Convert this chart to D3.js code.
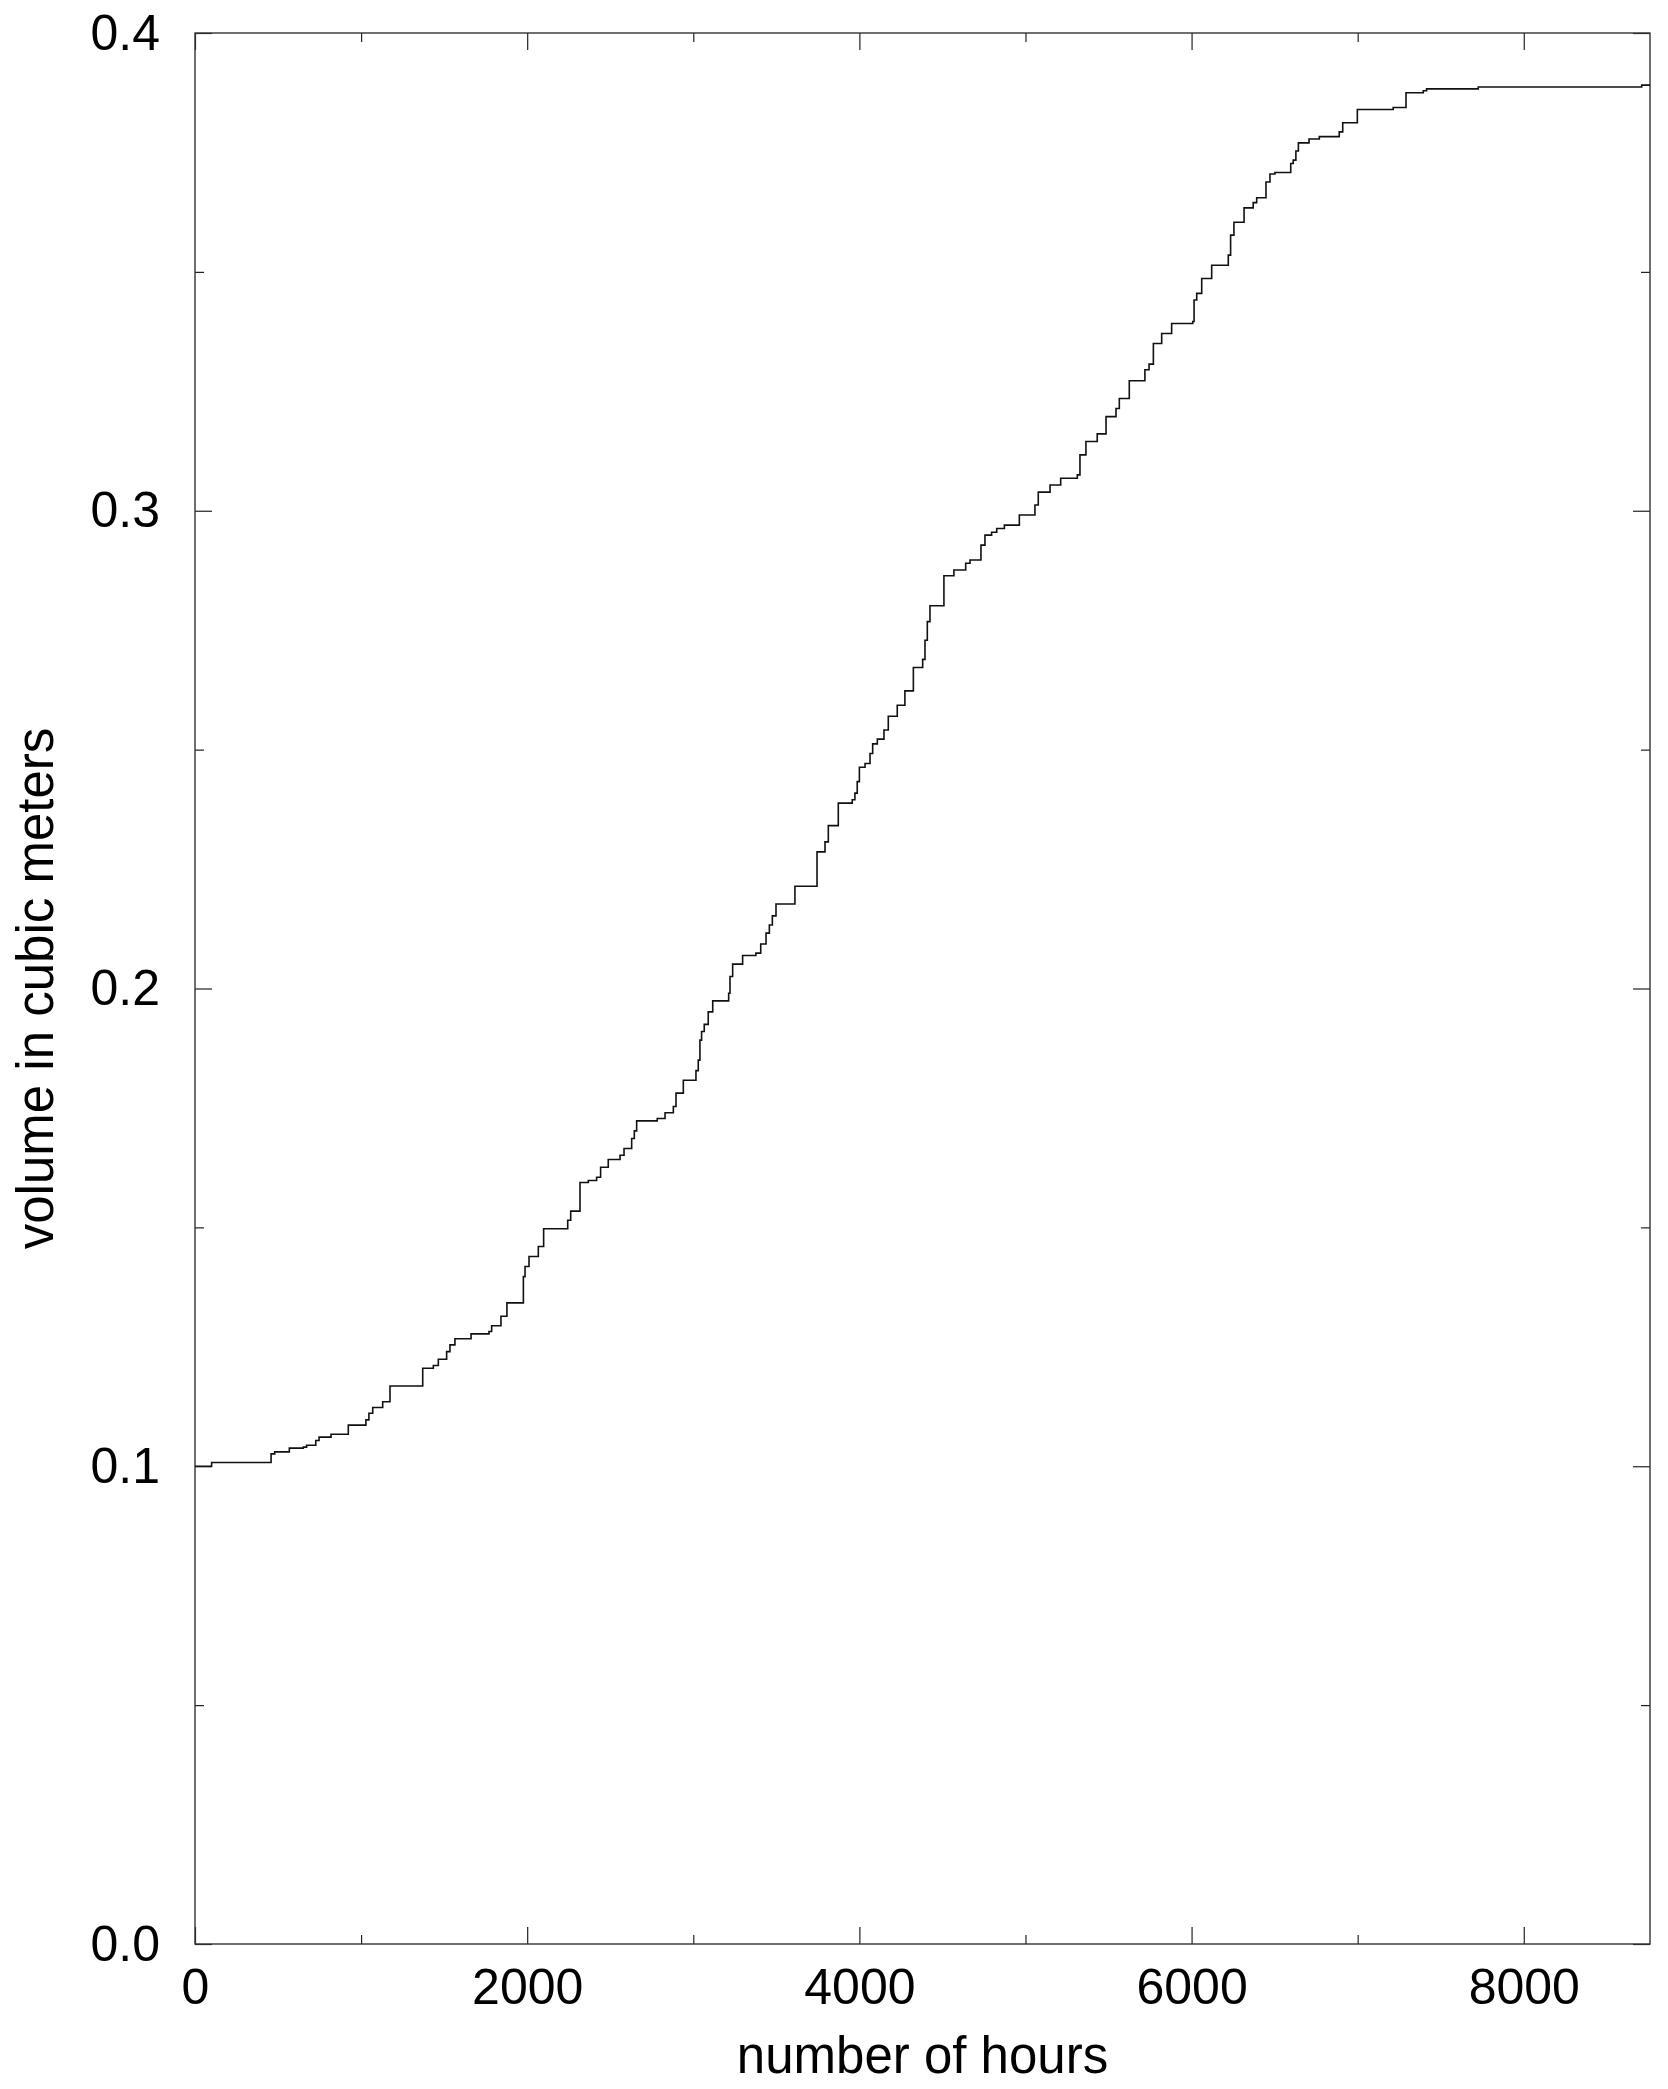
<!DOCTYPE html>
<html>
<head>
<meta charset="utf-8">
<script src="https://cdn.jsdelivr.net/npm/d3@7"></script>
<style>
  html, body { margin: 0; padding: 0; background: #fff; }
  svg { display: block; font-family: 'Liberation Sans', Arial, Helvetica, sans-serif; }
</style>
</head>
<body>
<svg id="chart" width="1668" height="2089"></svg>
<script>
// cumulative volume (step levels)
const hours = [
  0, 100, 458, 480, 568, 652, 672, 727, 747, 819, 923, 1029, 1047, 1070, 1130, 1174,
  1371, 1435, 1465, 1515, 1535, 1565, 1662, 1770, 1786, 1842, 1878, 1977, 1987, 2011,
  2067, 2099, 2244, 2262, 2318, 2368, 2418, 2442, 2488, 2559, 2583, 2629, 2645, 2659,
  2783, 2830, 2880, 2896, 2940, 3016, 3030, 3040, 3050, 3066, 3090, 3117, 3213, 3221,
  3237, 3297, 3377, 3406, 3438, 3458, 3476, 3498, 3612, 3745, 3793, 3813, 3873, 3957,
  3973, 3987, 4000, 4034, 4064, 4080, 4108, 4148, 4174, 4228, 4274, 4325, 4381, 4395,
  4409, 4425, 4509, 4569, 4640, 4666, 4732, 4756, 4796, 4827, 4873, 4963, 5057, 5077,
  5148, 5212, 5312, 5328, 5364, 5432, 5485, 5545, 5565, 5625, 5719, 5744, 5770, 5820,
  5880, 6007, 6015, 6031, 6061, 6121, 6221, 6235, 6255, 6316, 6371, 6392, 6448, 6472,
  6502, 6597, 6612, 6628, 6643, 6707, 6769, 6889, 6910, 6998, 7214, 7291, 7395, 7415,
  7726, 8710, 8760
];
const volume = [
  0.1000, 0.1008, 0.1026, 0.1030, 0.1038, 0.1040, 0.1044, 0.1054, 0.1061, 0.1067, 0.1086, 0.1097, 0.1111, 0.1123, 0.1135, 0.1168,
  0.1205, 0.1211, 0.1224, 0.1240, 0.1254, 0.1267, 0.1277, 0.1282, 0.1294, 0.1314, 0.1342, 0.1397, 0.1418, 0.1439,
  0.1460, 0.1497, 0.1515, 0.1534, 0.1594, 0.1598, 0.1605, 0.1626, 0.1642, 0.1651, 0.1665, 0.1686, 0.1702, 0.1723,
  0.1728, 0.1740, 0.1753, 0.1781, 0.1808, 0.1828, 0.1850, 0.1892, 0.1910, 0.1925, 0.1951, 0.1974, 0.1990, 0.2025,
  0.2051, 0.2069, 0.2074, 0.2093, 0.2116, 0.2133, 0.2152, 0.2177, 0.2214, 0.2286, 0.2307, 0.2341, 0.2388, 0.2395,
  0.2409, 0.2433, 0.2463, 0.2471, 0.2492, 0.2512, 0.2522, 0.2541, 0.2570, 0.2593, 0.2623, 0.2672, 0.2689, 0.2729,
  0.2768, 0.2801, 0.2864, 0.2876, 0.2890, 0.2897, 0.2928, 0.2949, 0.2955, 0.2963, 0.2970, 0.2991, 0.3012, 0.3039,
  0.3054, 0.3068, 0.3075, 0.3117, 0.3145, 0.3161, 0.3197, 0.3214, 0.3235, 0.3272, 0.3295, 0.3307, 0.3350, 0.3371,
  0.3392, 0.3396, 0.3441, 0.3455, 0.3486, 0.3514, 0.3535, 0.3577, 0.3604, 0.3634, 0.3645, 0.3655, 0.3688, 0.3705,
  0.3708, 0.3727, 0.3734, 0.3753, 0.3770, 0.3778, 0.3783, 0.3793, 0.3812, 0.3840, 0.3844, 0.3875, 0.3879, 0.3883,
  0.3887, 0.3891, 0.3891
];

const xMajor = [0, 2000, 4000, 6000, 8000];
const xMinor = [1000, 3000, 5000, 7000];
const yMajor = [0.0, 0.1, 0.2, 0.3, 0.4];
const yMinor = [0.05, 0.15, 0.25, 0.35];
const xTitle = 'number of hours';
const yTitle = 'volume in cubic meters';

const svg = d3.select('#chart');
const margin = { top: 33, right: 18, bottom: 145, left: 195 };
const width = 1668 - margin.left - margin.right;
const height = 2089 - margin.top - margin.bottom;

const g = svg.append('g')
  .attr('transform', `translate(${margin.left},${margin.top})`);

const xScale = d3.scaleLinear().domain([0, 8760]).range([0, width]);
const yScale = d3.scaleLinear().domain([0, 0.4]).range([height, 0]);

const data = hours.map((h, i) => ({ h, v: volume[i] }));

function styleAxis(sel) {
  sel.select('.domain').remove();
  sel.selectAll('line').attr('stroke', '#222').attr('stroke-width', 1.2);
  sel.selectAll('text')
    .attr('fill', '#000')
    .style('font-size', '50px')
    .style('font-family', "'Liberation Sans', Arial, sans-serif");
}

// bottom axis, labelled, ticks inward
g.append('g')
  .attr('transform', `translate(0,${height})`)
  .call(d3.axisBottom(xScale).tickValues(xMajor).tickSize(-17).tickPadding(24).tickFormat(d3.format('d')))
  .call(styleAxis);
g.append('g')
  .attr('transform', `translate(0,${height})`)
  .call(d3.axisBottom(xScale).tickValues(xMinor).tickSize(-9).tickFormat(''))
  .call(styleAxis);

// top axis, ticks only
g.append('g')
  .call(d3.axisTop(xScale).tickValues(xMajor).tickSize(-17).tickFormat(''))
  .call(styleAxis);
g.append('g')
  .call(d3.axisTop(xScale).tickValues(xMinor).tickSize(-9).tickFormat(''))
  .call(styleAxis);

// left axis, labelled
g.append('g')
  .call(d3.axisLeft(yScale).tickValues(yMajor).tickSize(-17).tickPadding(35).tickFormat(d3.format('.1f')))
  .call(styleAxis);
g.append('g')
  .call(d3.axisLeft(yScale).tickValues(yMinor).tickSize(-9).tickFormat(''))
  .call(styleAxis);

// right axis, ticks only
g.append('g')
  .attr('transform', `translate(${width},0)`)
  .call(d3.axisRight(yScale).tickValues(yMajor).tickSize(-17).tickFormat(''))
  .call(styleAxis);
g.append('g')
  .attr('transform', `translate(${width},0)`)
  .call(d3.axisRight(yScale).tickValues(yMinor).tickSize(-9).tickFormat(''))
  .call(styleAxis);

// frame
g.append('rect')
  .attr('x', 0)
  .attr('y', 0)
  .attr('width', width)
  .attr('height', height)
  .attr('fill', 'none')
  .attr('stroke', '#333')
  .attr('stroke-width', 1.4);

g.append('clipPath')
  .attr('id', 'plot-clip')
  .append('rect')
  .attr('width', width)
  .attr('height', height);

const line = d3.line()
  .x((d) => xScale(d.h))
  .y((d) => yScale(d.v))
  .curve(d3.curveStepAfter);

g.append('path')
  .datum(data)
  .attr('clip-path', 'url(#plot-clip)')
  .attr('d', line)
  .attr('fill', 'none')
  .attr('stroke', '#111')
  .attr('stroke-width', 1.6);

// axis titles
g.append('text')
  .attr('x', width / 2)
  .attr('y', height + 129)
  .attr('text-anchor', 'middle')
  .style('font-size', '51px')
  .text(xTitle);

g.append('text')
  .attr('transform', `translate(${53 - margin.left},${height / 2}) rotate(-90)`)
  .attr('text-anchor', 'middle')
  .style('font-size', '51px')
  .text(yTitle);
</script>
</body>
</html>
